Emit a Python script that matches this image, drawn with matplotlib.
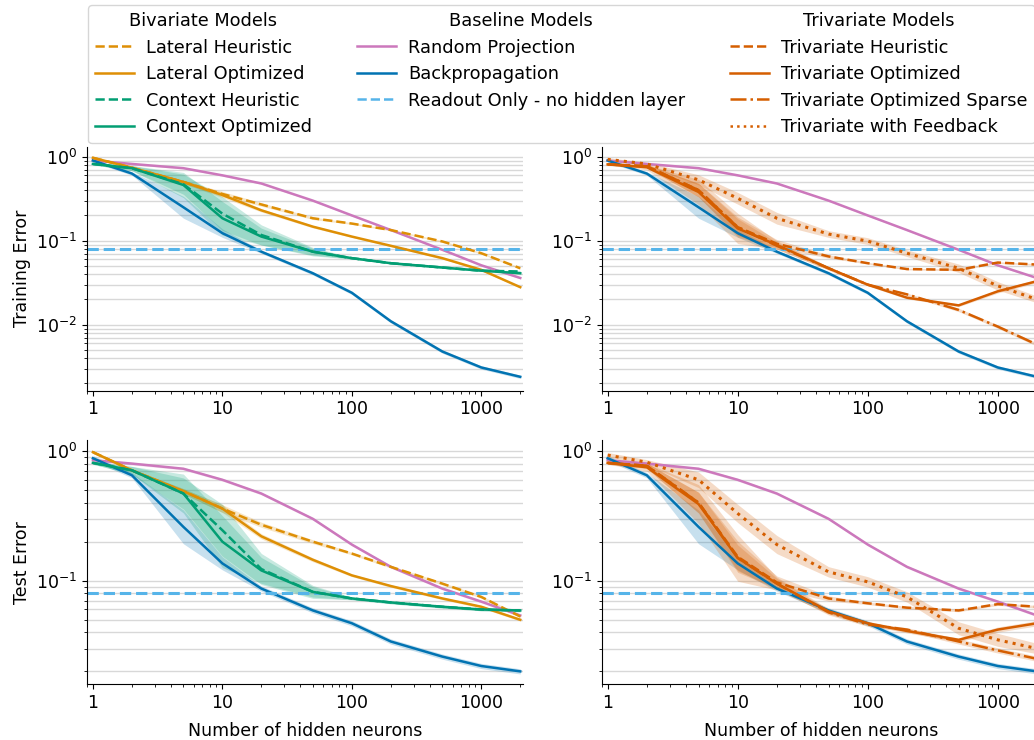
import numpy as np
import matplotlib
matplotlib.use("Agg")
import matplotlib.pyplot as plt
from matplotlib.lines import Line2D
from matplotlib.ticker import LogLocator, FuncFormatter, NullFormatter

# ---------------- data ----------------
x = [1, 2, 5, 10, 20, 50, 100, 200, 500, 1000, 2000]

train_backprop = [0.90, 0.63, 0.25, 0.123, 0.074, 0.041, 0.024, 0.011, 0.0048, 0.0031, 0.0024]
train_random = [0.90, 0.82, 0.73, 0.60, 0.48, 0.30, 0.20, 0.134, 0.078, 0.051, 0.036]
train_lat_heur = [0.97, 0.74, 0.50, 0.36, 0.27, 0.185, 0.16, 0.134, 0.098, 0.071, 0.047]
train_lat_opt = [0.97, 0.74, 0.50, 0.35, 0.23, 0.147, 0.112, 0.087, 0.062, 0.045, 0.028]
train_ctx_heur = [0.82, 0.73, 0.47, 0.21, 0.117, 0.074, 0.062, 0.054, 0.048, 0.044, 0.043]
train_ctx_opt = [0.82, 0.73, 0.46, 0.185, 0.112, 0.074, 0.062, 0.054, 0.048, 0.044, 0.041]
train_readout = 0.079
train_tri_heur = [0.81, 0.77, 0.40, 0.145, 0.092, 0.065, 0.054, 0.046, 0.045, 0.055, 0.052]
train_tri_opt = [0.81, 0.75, 0.38, 0.14, 0.089, 0.047, 0.030, 0.021, 0.017, 0.025, 0.033]
train_tri_sparse = [0.81, 0.77, 0.40, 0.145, 0.087, 0.047, 0.030, 0.023, 0.015, 0.0095, 0.0058]
train_tri_fb = [0.93, 0.82, 0.53, 0.32, 0.185, 0.12, 0.099, 0.071, 0.047, 0.029, 0.020]

test_backprop = [0.88, 0.65, 0.26, 0.136, 0.087, 0.059, 0.047, 0.034, 0.026, 0.022, 0.020]
test_random = [0.85, 0.80, 0.73, 0.60, 0.47, 0.30, 0.19, 0.128, 0.087, 0.069, 0.054]
test_lat_heur = [0.98, 0.71, 0.49, 0.36, 0.27, 0.20, 0.162, 0.128, 0.095, 0.075, 0.053]
test_lat_opt = [0.98, 0.71, 0.49, 0.36, 0.22, 0.145, 0.11, 0.091, 0.073, 0.063, 0.050]
test_ctx_heur = [0.81, 0.71, 0.47, 0.245, 0.123, 0.082, 0.073, 0.068, 0.063, 0.060, 0.059]
test_ctx_opt = [0.81, 0.71, 0.47, 0.20, 0.12, 0.082, 0.073, 0.068, 0.063, 0.060, 0.059]
test_readout = 0.081
test_tri_heur = [0.81, 0.77, 0.40, 0.153, 0.097, 0.073, 0.067, 0.062, 0.059, 0.066, 0.063]
test_tri_opt = [0.81, 0.75, 0.39, 0.15, 0.095, 0.058, 0.047, 0.041, 0.035, 0.042, 0.047]
test_tri_sparse = [0.81, 0.77, 0.40, 0.15, 0.095, 0.057, 0.046, 0.042, 0.034, 0.029, 0.025]
test_tri_fb = [0.93, 0.82, 0.60, 0.33, 0.19, 0.117, 0.098, 0.075, 0.043, 0.035, 0.030]

# spread (half-width of shaded band, in decades)
sd_backprop = [0.02, 0.02, 0.13, 0.05, 0.02, 0.02, 0.02, 0.02, 0.02, 0.02, 0.02]
sd_random = [0.01, 0.01, 0.01, 0.01, 0.01, 0.01, 0.01, 0.01, 0.01, 0.01, 0.01]
sd_lat = [0.01, 0.01, 0.02, 0.03, 0.02, 0.015, 0.01, 0.01, 0.01, 0.01, 0.01]
sd_ctx_heur = [0.01, 0.03, 0.12, 0.20, 0.12, 0.05, 0.01, 0.01, 0.01, 0.01, 0.01]
sd_ctx_opt = [0.01, 0.03, 0.15, 0.20, 0.10, 0.04, 0.01, 0.01, 0.01, 0.01, 0.01]
sd_tri_heur = [0.01, 0.02, 0.08, 0.12, 0.05, 0.02, 0.01, 0.01, 0.01, 0.01, 0.01]
sd_tri_opt = [0.01, 0.03, 0.15, 0.18, 0.05, 0.02, 0.015, 0.015, 0.015, 0.02, 0.02]
sd_tri_sparse = [0.01, 0.02, 0.08, 0.10, 0.04, 0.02, 0.015, 0.015, 0.02, 0.02, 0.02]
sd_tri_fb = [0.02, 0.02, 0.06, 0.07, 0.07, 0.04, 0.04, 0.04, 0.05, 0.05, 0.04]

labels_biv = ["Lateral Heuristic", "Lateral Optimized", "Context Heuristic", "Context Optimized"]
labels_base = ["Random Projection", "Backpropagation", "Readout Only - no hidden layer"]
labels_tri = ["Trivariate Heuristic", "Trivariate Optimized", "Trivariate Optimized Sparse",
              "Trivariate with Feedback"]
headers = ["Bivariate Models", "Baseline Models", "Trivariate Models"]

# ---------------- style ----------------
C_LAT = "#DE8F05"
C_CTX = "#029E73"
C_RND = "#CC78BC"
C_BP = "#0173B2"
C_RO = "#56B4E9"
C_TRI = "#D55E00"
FS = 12.5
FS_LEG = 12.8
LW = 1.8

plt.rcParams["font.family"] = ["DejaVu Sans"]
plt.rcParams["mathtext.fontset"] = "dejavusans"

W, H = 1034, 740
fig = plt.figure(figsize=(W / 100, H / 100), dpi=100)


def ax_at(left, top, width, height):
    return fig.add_axes([left / W, 1 - (top + height) / H, width / W, height / H])


ax_tl = ax_at(87, 146.7, 436, 244)
ax_tr = ax_at(601.7, 146.7, 438, 244)
ax_bl = ax_at(87, 440, 436, 244.3)
ax_br = ax_at(601.7, 440, 438, 244.3)

xa = np.array(x, dtype=float)


def draw(ax, vals, sd, color, ls, lw=LW):
    v = np.array(vals)
    s = 10 ** np.array(sd)
    ax.fill_between(xa, v / s, v * s, color=color, alpha=0.22, lw=0)
    ax.plot(xa, v, color=color, ls=ls, lw=lw)


def base(ax, bp, rnd, ro):
    draw(ax, rnd, sd_random, C_RND, "-")
    draw(ax, bp, sd_backprop, C_BP, "-")
    ax.axhline(ro, color=C_RO, ls="--", lw=2.2)


# top-left
base(ax_tl, train_backprop, train_random, train_readout)
draw(ax_tl, train_lat_heur, sd_lat, C_LAT, "--")
draw(ax_tl, train_lat_opt, sd_lat, C_LAT, "-")
draw(ax_tl, train_ctx_heur, sd_ctx_heur, C_CTX, "--")
draw(ax_tl, train_ctx_opt, sd_ctx_opt, C_CTX, "-")
# bottom-left
base(ax_bl, test_backprop, test_random, test_readout)
draw(ax_bl, test_lat_heur, sd_lat, C_LAT, "--")
draw(ax_bl, test_lat_opt, sd_lat, C_LAT, "-")
draw(ax_bl, test_ctx_heur, sd_ctx_heur, C_CTX, "--")
draw(ax_bl, test_ctx_opt, sd_ctx_opt, C_CTX, "-")
# top-right
base(ax_tr, train_backprop, train_random, train_readout)
draw(ax_tr, train_tri_heur, sd_tri_heur, C_TRI, "--")
draw(ax_tr, train_tri_opt, sd_tri_opt, C_TRI, "-")
draw(ax_tr, train_tri_sparse, sd_tri_sparse, C_TRI, "-.")
draw(ax_tr, train_tri_fb, sd_tri_fb, C_TRI, ":", lw=2.2)
# bottom-right
base(ax_br, test_backprop, test_random, test_readout)
draw(ax_br, test_tri_heur, sd_tri_heur, C_TRI, "--")
draw(ax_br, test_tri_opt, sd_tri_opt, C_TRI, "-")
draw(ax_br, test_tri_sparse, sd_tri_sparse, C_TRI, "-.")
draw(ax_br, test_tri_fb, sd_tri_fb, C_TRI, ":", lw=2.2)

for ax, ylim in [(ax_tl, (0.00164, 1.315)), (ax_tr, (0.00164, 1.315)),
                 (ax_bl, (0.0159, 1.216)), (ax_br, (0.0159, 1.216))]:
    ax.set_xscale("log")
    ax.set_yscale("log")
    ax.set_xlim(0.9, 2100)
    ax.set_ylim(*ylim)
    ax.spines["top"].set_visible(False)
    ax.spines["right"].set_visible(False)
    ax.yaxis.grid(True, which="both", color="#d8d8d8", lw=1.0)
    ax.set_axisbelow(True)
    ax.xaxis.set_major_locator(LogLocator(base=10))
    ax.xaxis.set_major_formatter(FuncFormatter(lambda v, p: f"{v:g}"))
    ax.xaxis.set_minor_formatter(NullFormatter())
    ax.yaxis.set_minor_formatter(NullFormatter())
    ax.tick_params(labelsize=FS)

ax_tl.set_ylabel("Training Error", fontsize=FS)
ax_bl.set_ylabel("Test Error", fontsize=FS)
ax_bl.set_xlabel("Number of hidden neurons", fontsize=FS, labelpad=7)
ax_br.set_xlabel("Number of hidden neurons", fontsize=FS, labelpad=7)

# ---------------- legend ----------------
blank = lambda: Line2D([], [], linestyle="none")
handles = [blank(),
           Line2D([], [], color=C_LAT, ls="--", lw=LW),
           Line2D([], [], color=C_LAT, ls="-", lw=LW),
           Line2D([], [], color=C_CTX, ls="--", lw=LW),
           Line2D([], [], color=C_CTX, ls="-", lw=LW),
           blank(),
           Line2D([], [], color=C_RND, ls="-", lw=LW),
           Line2D([], [], color=C_BP, ls="-", lw=LW),
           Line2D([], [], color=C_RO, ls="--", lw=LW),
           blank(),
           blank(),
           Line2D([], [], color=C_TRI, ls="--", lw=LW),
           Line2D([], [], color=C_TRI, ls="-", lw=LW),
           Line2D([], [], color=C_TRI, ls="-.", lw=LW),
           Line2D([], [], color=C_TRI, ls=":", lw=LW)]
labels = [headers[0]] + labels_biv + [headers[1]] + labels_base + [""] + [headers[2]] + labels_tri

leg = fig.legend(handles, labels, ncol=3, loc="upper left",
                 bbox_to_anchor=(88 / W, 1 - 5 / H), borderaxespad=0,
                 fontsize=FS_LEG, columnspacing=2.55, labelspacing=0.48,
                 handlelength=2.2, handletextpad=0.65, frameon=True)

fig.canvas.draw()
renderer = fig.canvas.get_renderer()
texts = leg.get_texts()
lh = leg.legend_handles
inv = fig.transFigure.inverted()
for c in range(3):
    idx = list(range(5 * c, 5 * c + 5))
    x0s = [lh[i].get_window_extent(renderer).x0 for i in idx[1:] if texts[i].get_text()]
    x1s = [texts[i].get_window_extent(renderer).x1 for i in idx[1:] if texts[i].get_text()]
    bb = texts[idx[0]].get_window_extent(renderer)
    cx = (min(x0s) + max(x1s)) / 2
    cy = (bb.y0 + bb.y1) / 2
    fx, fy = inv.transform((cx, cy))
    texts[idx[0]].set_visible(False)
    fig.text(fx, fy, headers[c], ha="center", va="center", fontsize=FS_LEG, zorder=10)

fig.savefig("out.png", dpi=100)
